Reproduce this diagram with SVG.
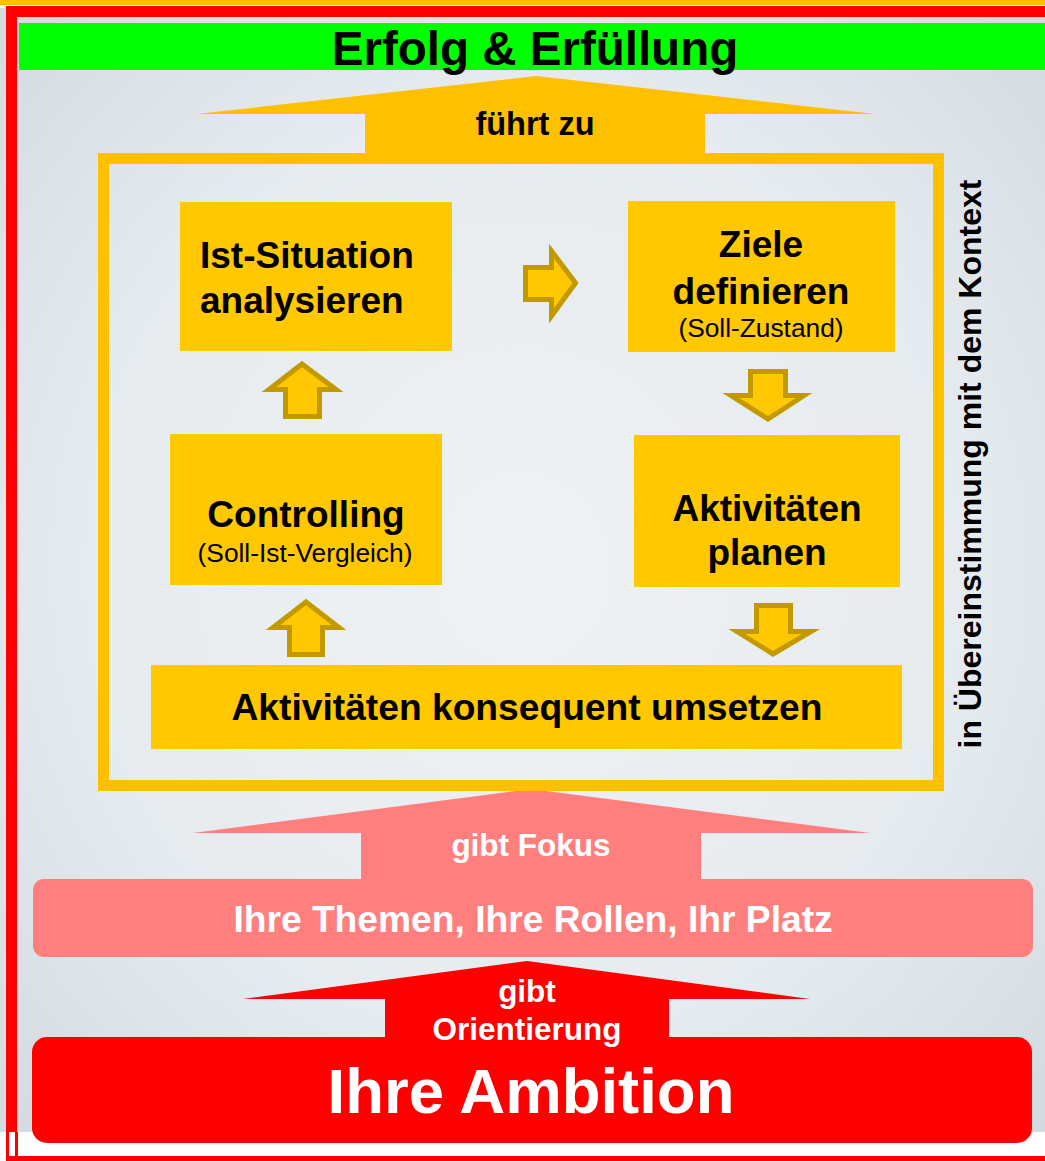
<svg xmlns="http://www.w3.org/2000/svg" width="1045" height="1161" viewBox="0 0 1045 1161">
<defs>
<radialGradient id="bg" cx="0.5" cy="0.5" r="0.7">
<stop offset="0" stop-color="#EEF2F5"/>
<stop offset="0.6" stop-color="#E6EBEF"/>
<stop offset="1" stop-color="#D3DAE0"/>
</radialGradient>
<style>
.t{font-family:"Liberation Sans",Arial,sans-serif;font-weight:bold;fill:#000}
.r{font-family:"Liberation Sans",Arial,sans-serif;font-weight:normal;fill:#000}
.w{font-family:"Liberation Sans",Arial,sans-serif;font-weight:bold;fill:#fff}
.box{fill:#FFC800}
.arr{fill:#FFC800;stroke:#C29A00;stroke-width:5;stroke-linejoin:miter}
.mid{text-anchor:middle}
</style>
</defs>
<rect x="0" y="0" width="1045" height="1161" fill="#fff"/>
<rect x="0" y="8" width="1045" height="1124" fill="url(#bg)"/>
<rect x="0" y="0" width="1045" height="5" fill="#FFC000"/>
<g id="frame">
<rect x="6" y="6" width="1039" height="11" fill="#FF0000"/>
<rect x="6" y="6" width="11" height="1126" fill="#FF0000"/>
<rect x="6" y="1132" width="3" height="29" fill="#FF0000"/>
<rect x="15" y="1132" width="3" height="26" fill="#FF0000"/>
<rect x="6" y="1156" width="1039" height="5" fill="#FF0000"/>
</g>
<g id="title">
<rect x="19" y="23" width="1026" height="47" fill="#00FF00"/>
<text class="t mid" x="535" y="65" font-size="47.5">Erfolg &amp; Erfüllung</text>
</g>
<g id="connectors">
<polygon id="arrow-fuehrt" points="536,76 875,114 705,114 705,153 365,153 365,114 197,114" fill="#FFC000"/>
<text class="t mid" x="535" y="135" font-size="32.5">führt zu</text>
<polygon class="arr" points="525.5,267.5 551.5,267.5 551.5,251 575.5,283 551.5,316 551.5,299.5 525.5,299.5"/>
<polygon class="arr" points="750.5,371.5 785.5,371.5 785.5,395.5 804,395.5 768,419 731,395.5 750.5,395.5"/>
<polygon class="arr" points="302,364 336,389.5 319.5,389.5 319.5,416.5 285.5,416.5 285.5,389.5 269,389.5"/>
<polygon class="arr" points="306,602 339,627.5 322.5,627.5 322.5,654.5 289.5,654.5 289.5,627.5 273,627.5"/>
<polygon class="arr" points="756.5,605.5 790.5,605.5 790.5,631.5 811,631.5 773,654 737,631.5 756.5,631.5"/>
<polygon id="arrow-fokus" points="531,789 870,833 701,833 701,880 361,880 361,833 193,833" fill="#FF7F7F"/>
<text class="w mid" x="531" y="856" font-size="31.5">gibt Fokus</text>
<polygon id="arrow-orient" points="527,961 810,999 669,999 669,1038 385,1038 385,999 243,999" fill="#FF0000"/>
</g>
<g id="cycle-frame">
<rect x="103.5" y="158.5" width="835" height="627" fill="none" stroke="#FFC000" stroke-width="11"/>
</g>
<g id="node-ist">
<rect class="box" x="180" y="202" width="272" height="149"/>
<text class="t" x="200" y="268" font-size="37">Ist-Situation</text>
<text class="t" x="200" y="313" font-size="37">analysieren</text>
</g>
<g id="node-ziele">
<rect class="box" x="628" y="201" width="267" height="151"/>
<text class="t mid" x="761" y="257" font-size="37">Ziele</text>
<text class="t mid" x="761" y="304" font-size="37">definieren</text>
<text class="r mid" x="761" y="337" font-size="26.3">(Soll-Zustand)</text>
</g>
<g id="node-controlling">
<rect class="box" x="170" y="434" width="272" height="151"/>
<text class="t mid" x="306" y="527" font-size="37">Controlling</text>
<text class="r mid" x="305" y="562" font-size="26.3">(Soll-Ist-Vergleich)</text>
</g>
<g id="node-planen">
<rect class="box" x="634" y="435" width="266" height="152"/>
<text class="t mid" x="767" y="521" font-size="37">Aktivitäten</text>
<text class="t mid" x="767" y="565" font-size="37">planen</text>
</g>
<g id="node-umsetzen">
<rect class="box" x="151" y="665" width="751" height="84"/>
<text class="t mid" x="527" y="720" font-size="37.2">Aktivitäten konsequent umsetzen</text>
</g>
<g id="label-kontext">
<text class="t mid" transform="translate(981,464) rotate(-90)" font-size="32">in Übereinstimmung mit dem Kontext</text>
</g>
<g id="node-themen">
<rect x="33" y="879" width="1000" height="78" rx="11" fill="#FF7F7F"/>
<text class="w mid" x="533" y="932" font-size="37.2">Ihre Themen, Ihre Rollen, Ihr Platz</text>
</g>
<g id="node-ambition">
<rect x="32" y="1037" width="1000" height="106" rx="15" fill="#FF0000"/>
<text class="w mid" x="527" y="1002" font-size="31.5">gibt</text>
<text class="w mid" x="527" y="1040" font-size="31.5">Orientierung</text>
<text class="w mid" x="531" y="1113" font-size="63.5">Ihre Ambition</text>
</g>
</svg>
